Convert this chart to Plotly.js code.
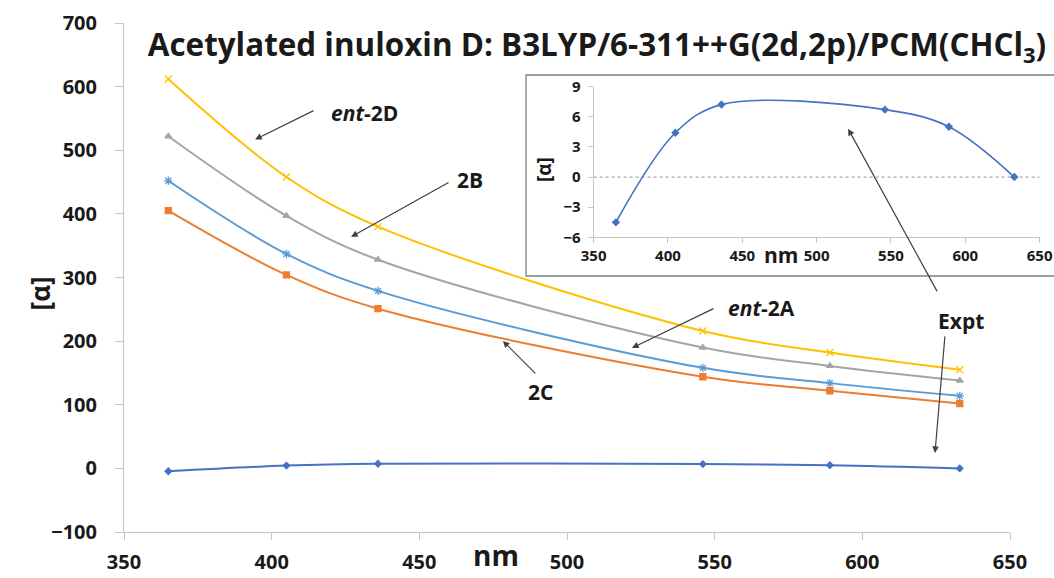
<!DOCTYPE html>
<html>
<head>
<meta charset="utf-8">
<script src="https://cdn.plot.ly/plotly-3.0.1.min.js"></script>
<style>html,body{margin:0;padding:0;background:#fff;}#chart{width:1054px;height:578px;}</style>
</head>
<body>
<div id="chart"></div>
<script>
// ---- data ----
const wavelengths = [365, 405, 436, 546, 589, 633];
const ent2D = [612, 458, 380, 216, 182, 155];
const s2B   = [522, 397, 328, 190, 161, 138];
const ent2A = [452, 337, 279, 158, 134, 114];
const s2C   = [405, 304, 251, 144, 122, 102];
const expt  = [-4.5, 4.4, 7.2, 6.7, 5.0, 0.0];

const mainXTicks = [350, 400, 450, 500, 550, 600, 650];
const mainYTicks = [-100, 0, 100, 200, 300, 400, 500, 600, 700];
const insetYTicks = [-6, -3, 0, 3, 6, 9];

const FONT = "'Open Sans', 'Noto Sans', sans-serif";
const TXT = '#1a1a1a';
const AXC = '#c4c4c4';

function series(y, color, symbol, size, xa, ya, lw) {
  return {
    x: wavelengths, y: y, type: 'scatter', mode: 'lines+markers',
    xaxis: xa || 'x', yaxis: ya || 'y',
    line: {color: color, width: lw || 2, shape: 'spline', smoothing: 1},
    marker: {color: color, symbol: symbol, size: size, line: {color: color, width: 1.3}},
    showlegend: false, hoverinfo: 'skip'
  };
}

const traces = [
  series(expt,  '#4472C4', 'diamond', 5),
  series(s2C,   '#ED7D31', 'square', 6),
  series(ent2A, '#5B9BD5', 'asterisk-open', 7),
  series(s2B,   '#A5A5A5', 'triangle-up', 6),
  series(ent2D, '#FFC000', 'x-thin-open', 7),
  series(expt,  '#4472C4', 'diamond', 5, 'x2', 'y2', 1.6)
];

// plotting area in paper: 124..1054 px (930 px) by 23..532 px (509 px)
const PW = 930, PH = 509;
const mainDomEnd = 886 / PW;

function arrow(xTip, yTip, xTail, yTail) {
  return {x: xTip, y: yTip, ax: xTail, ay: yTail, xref: 'x', yref: 'y', axref: 'x', ayref: 'y',
    text: '', showarrow: true, arrowhead: 2, arrowsize: 1.1, arrowwidth: 1.2, arrowcolor: '#404040'};
}
function label(txt, x, y, size) {
  return {x: x, y: y, xref: 'x', yref: 'y', text: txt, showarrow: false,
    font: {family: FONT, size: size || 21, color: TXT, weight: 700}, xanchor: 'center', yanchor: 'middle'};
}

const annotations = [
  label('<i>ent</i>-2D', 431.6, 558),
  arrow(394.4, 517, 414.7, 563.5),
  label('2B', 467.2, 453),
  arrow(426.9, 363.8, 460.4, 450.6),
  label('<i>ent</i>-2A', 566, 252),
  arrow(522, 189.3, 550.1, 252.2),
  label('2C', 490.9, 120),
  arrow(478.3, 200.3, 489.8, 147),
  label('Expt', 633.4, 232),
  arrow(624.6, 24.2, 628, 209.9),
  arrow(595.2, 533.6, 625.6, 275.8),
  // axis titles
  {x: -84 / PW, y: 275, xref: 'paper', yref: 'y', text: '[α]', textangle: -90, showarrow: false,
   font: {family: FONT, size: 26, color: TXT, weight: 700}, xanchor: 'center', yanchor: 'middle'},
  {x: 476, y: -23 / PH, xref: 'x', yref: 'paper', text: 'nm', showarrow: false,
   font: {family: FONT, size: 28, color: TXT, weight: 700}, xanchor: 'center', yanchor: 'middle'},
  // inset axis titles
  {x: (781 - 124) / PW, y: (532 - 255) / PH, xref: 'paper', yref: 'paper', text: 'nm', showarrow: false,
   font: {family: FONT, size: 21, color: TXT, weight: 700}, xanchor: 'center', yanchor: 'middle'},
  {x: (544 - 124) / PW, y: (532 - 170) / PH, xref: 'paper', yref: 'paper', text: '[α]', textangle: -90, showarrow: false,
   font: {family: FONT, size: 19, color: TXT, weight: 700}, xanchor: 'center', yanchor: 'middle'}
];

const shapes = [
  // inset frame (runs off the right edge, as in the reference)
  {type: 'rect', xref: 'paper', yref: 'paper', x0: (526 - 124) / PW, x1: (1060 - 124) / PW,
   y0: (532 - 276) / PH, y1: (532 - 75) / PH, fillcolor: '#ffffff', line: {color: '#7f7f7f', width: 1.3}, layer: 'below'},
  // inset dotted zero line
  {type: 'line', xref: 'x2', yref: 'y2', x0: 350, x1: 650, y0: 0, y1: 0,
   line: {color: '#a6a6a6', width: 1.2, dash: 'dot'}, layer: 'below'}
];

const layout = {
  width: 1054, height: 578,
  margin: {l: 124, r: 0, t: 23, b: 46},
  paper_bgcolor: '#ffffff', plot_bgcolor: 'rgba(0,0,0,0)',
  font: {family: FONT, color: TXT, weight: 700},
  title: {text: 'Acetylated inuloxin D: B3LYP/6-311++G(2d,2p)/PCM(CHCl<sub>3</sub>)',
    x: 597 / 1054, xanchor: 'center', xref: 'container', y: 1 - 45 / 578, yanchor: 'middle', yref: 'container',
    font: {family: FONT, size: 31.4, color: TXT, weight: 700}},
  xaxis: {domain: [0, mainDomEnd], range: [350, 650], tickvals: mainXTicks, ticks: 'outside', ticklen: 7,
    tickcolor: AXC, showline: true, linecolor: AXC, linewidth: 1, showgrid: false, zeroline: false,
    tickfont: {family: FONT, size: 20, color: TXT, weight: 700}, ticklabelstandoff: 5, anchor: 'y'},
  yaxis: {domain: [0, 1], range: [-100, 700], tickvals: mainYTicks, ticks: 'outside', ticklen: 8,
    tickcolor: AXC, showline: true, linecolor: AXC, linewidth: 1, showgrid: false, zeroline: false,
    tickfont: {family: FONT, size: 20, color: TXT, weight: 700}, ticklabelstandoff: 14, anchor: 'x'},
  xaxis2: {domain: [(593.6 - 124) / PW, (1039.6 - 124) / PW], range: [350, 650], tickvals: mainXTicks,
    ticks: 'outside', ticklen: 5, tickcolor: AXC, showline: true, linecolor: AXC, showgrid: false, zeroline: false,
    tickfont: {family: FONT, size: 15, color: TXT, weight: 700}, anchor: 'y2'},
  yaxis2: {domain: [(532 - 237.4) / PH, (532 - 86.5) / PH], range: [-6, 9], tickvals: insetYTicks,
    ticks: 'outside', ticklen: 5, tickcolor: AXC, showline: true, linecolor: AXC, showgrid: false, zeroline: false,
    tickfont: {family: FONT, size: 15, color: TXT, weight: 700}, ticklabelstandoff: 4, anchor: 'x2'},
  annotations: annotations,
  shapes: shapes,
  showlegend: false
};

Plotly.newPlot('chart', traces, layout, {displayModeBar: false, staticPlot: true});
</script>
</body>
</html>
